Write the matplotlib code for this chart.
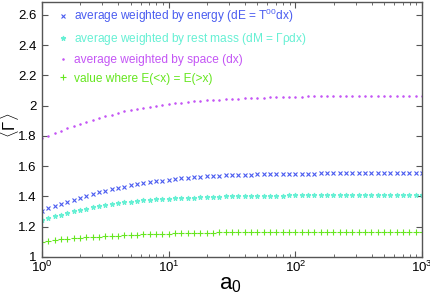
import matplotlib
matplotlib.use('Agg')
import matplotlib.pyplot as plt
import numpy as np
from matplotlib.ticker import LogLocator, NullFormatter

plt.rcParams['font.family'] = ['Liberation Sans', 'DejaVu Sans']
plt.rcParams['mathtext.fontset'] = 'custom'
plt.rcParams['mathtext.rm'] = 'Liberation Sans'
plt.rcParams['mathtext.it'] = 'Liberation Sans'

# a0 sample points: 20 per decade from 1 to 1000
a0 = np.logspace(0, 3, 61)

energy = [1.306, 1.322, 1.337, 1.353, 1.366, 1.379, 1.392, 1.405, 1.417, 1.428,
          1.439, 1.447, 1.456, 1.465, 1.474, 1.480, 1.489, 1.494, 1.500, 1.505,
          1.510, 1.515, 1.519, 1.523, 1.527, 1.530, 1.533, 1.536, 1.538, 1.540,
          1.541, 1.543, 1.544, 1.545, 1.546, 1.547, 1.548, 1.549, 1.549, 1.550,
          1.550, 1.551, 1.551, 1.551, 1.552, 1.552, 1.552, 1.552, 1.553, 1.553,
          1.553, 1.553, 1.553, 1.553, 1.554, 1.554, 1.554, 1.554, 1.554, 1.554,
          1.554]
rest_mass = [1.242, 1.256, 1.269, 1.280, 1.291, 1.302, 1.311, 1.320, 1.328, 1.337,
             1.344, 1.350, 1.357, 1.361, 1.366, 1.370, 1.375, 1.378, 1.380, 1.382,
             1.384, 1.387, 1.389, 1.391, 1.393, 1.395, 1.397, 1.398, 1.399, 1.400,
             1.401, 1.402, 1.403, 1.404, 1.404, 1.405, 1.405, 1.406, 1.406, 1.407,
             1.407, 1.407, 1.407, 1.408, 1.408, 1.408, 1.408, 1.408, 1.408, 1.409,
             1.409, 1.409, 1.409, 1.409, 1.409, 1.409, 1.409, 1.409, 1.409, 1.409,
             1.409]
space = [1.788, 1.802, 1.820, 1.835, 1.853, 1.868, 1.882, 1.895, 1.908, 1.919,
         1.932, 1.941, 1.952, 1.963, 1.970, 1.979, 1.987, 1.994, 2.001, 2.005,
         2.012, 2.016, 2.020, 2.025, 2.029, 2.033, 2.036, 2.038, 2.040, 2.042,
         2.045, 2.047, 2.049, 2.051, 2.053, 2.054, 2.056, 2.057, 2.058, 2.059,
         2.060, 2.060, 2.061, 2.061, 2.062, 2.062, 2.062, 2.063, 2.063, 2.063,
         2.063, 2.064, 2.064, 2.064, 2.064, 2.064, 2.064, 2.064, 2.064, 2.064,
         2.064]
median = [1.102, 1.107, 1.111, 1.116, 1.120, 1.123, 1.127, 1.130, 1.132, 1.134,
          1.137, 1.139, 1.141, 1.143, 1.145, 1.147, 1.149, 1.150, 1.152, 1.154,
          1.155, 1.156, 1.157, 1.158, 1.159, 1.160, 1.160, 1.161, 1.162, 1.162,
          1.163, 1.163, 1.164, 1.164, 1.164, 1.165, 1.165, 1.165, 1.165, 1.166,
          1.166, 1.166, 1.166, 1.166, 1.166, 1.167, 1.167, 1.167, 1.167, 1.167,
          1.167, 1.167, 1.167, 1.167, 1.167, 1.167, 1.167, 1.167, 1.167, 1.167,
          1.167]

labels = ['average weighted by energy (dE = T$^{00}$dx)',
          'average weighted by rest mass (dM = $\\Gamma\\rho$dx)',
          'average weighted by space (dx)',
          'value where E(<x) = E(>x)']
colors = ['#4a5cf0', '#66f0d4', '#c455f5', '#66e620']
markers = ['x', '*', '.', '+']
sizes = [3.0, 3.5, 2.0, 4.5]

fig = plt.figure(figsize=(4.31, 2.94), dpi=100)
ax = fig.add_axes([0.0975, 0.126, 0.882, 0.867])

for ys, lab, c, m, s in zip([energy, rest_mass, space, median], labels, colors, markers, sizes):
    ax.plot(a0, ys, linestyle='none', marker=m, color=c, markersize=s,
            markeredgewidth=0.8, label=lab)

ax.set_xscale('log')
ax.set_xlim(1, 1000)
ax.set_ylim(1, 2.685)
ax.set_yticks([1, 1.2, 1.4, 1.6, 1.8, 2, 2.2, 2.4, 2.6])
ax.set_yticklabels(['1', '1.2', '1.4', '1.6', '1.8', '2', '2.2', '2.4', '2.6'])
ax.xaxis.set_minor_locator(LogLocator(base=10, subs=np.arange(2, 10)))
ax.xaxis.set_minor_formatter(NullFormatter())
ax.tick_params(which='both', direction='in', top=True, right=True,
               labelsize=9.5, color='#555555')
ax.tick_params(which='major', length=4, width=0.8, pad=4)
ax.tick_params(axis='x', which='major', pad=2)
ax.tick_params(which='minor', length=2, width=0.6)
for sp in ax.spines.values():
    sp.set_color('#555555')
    sp.set_linewidth(1.0)

ax.set_xlabel('a$_0$', fontsize=16)
ax.xaxis.set_label_coords(0.495, -0.068)
ax.set_ylabel(r'$\langle\Gamma\rangle$', fontsize=12)
ax.yaxis.set_label_coords(-0.056, 0.515)

leg = ax.legend(loc='upper left', frameon=False, fontsize=8.6, handletextpad=0.4,
                labelspacing=0.55, handlelength=1.0, borderaxespad=0.2,
                bbox_to_anchor=(0.02, 1.01), markerscale=1.0)
for txt, c in zip(leg.get_texts(), colors):
    txt.set_color(c)

fig.savefig('out.png', dpi=100)
